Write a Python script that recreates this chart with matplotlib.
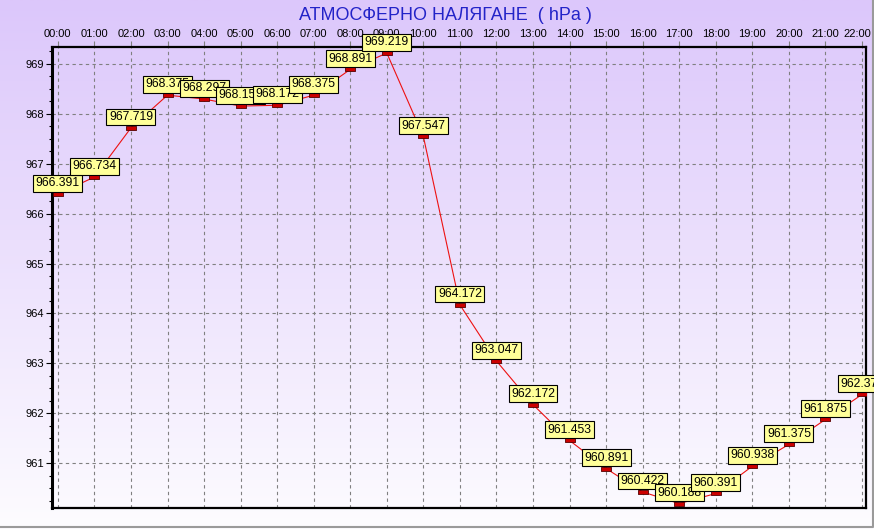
import numpy as np
import matplotlib

matplotlib.use("Agg")
import matplotlib.pyplot as plt
import matplotlib.transforms as mtransforms
from matplotlib.path import Path
from matplotlib.lines import Line2D

hours = list(range(23))
hour_labels = [f"{h:02d}:00" for h in hours]
pressure = [966.391, 966.734, 967.719, 968.375, 968.297, 968.156, 968.172,
            968.375, 968.891, 969.219, 967.547, 964.172, 963.047, 962.172,
            961.453, 960.891, 960.422, 960.188, 960.391, 960.938, 961.375,
            961.875, 962.375]
label_texts = ["966.391", "966.734", "967.719", "968.375", "968.297", "968.156",
               "968.172", "968.375", "968.891", "969.219", "967.547", "964.172",
               "963.047", "962.172", "961.453", "960.891", "960.422", "960.188",
               "960.391", "960.938", "961.375", "961.875", "962.375"]
y_ticks = [961, 962, 963, 964, 965, 966, 967, 968, 969]

plt.rcParams["font.family"] = ["Liberation Sans", "DejaVu Sans"]

W, H = 874, 529
fig = plt.figure(figsize=(W / 100, H / 100), dpi=100)

# gradient background: lavender at top fading to near white
bg = fig.add_axes([0, 0, 1, 1], zorder=-10)
top = np.array([220, 199, 251]) / 255
bot = np.array([253, 252, 255]) / 255
t = np.linspace(0, 1, 256)[:, None]
grad = (top * (1 - t) + bot * t)[:, None, :]
bg.imshow(grad, aspect="auto", extent=[0, 1, 0, 1])
bg.set_xlim(0, 1); bg.set_ylim(0, 1)
bg.set_axis_off()
# panel frame: gray on bottom and right
bg.add_line(Line2D([0, 0.9985, 0.9985], [0.003, 0.003, 1], color="#9a9a9a", lw=1.5))

ax = fig.add_axes([52 / W, 1 - 508 / H, (866 - 52) / W, (508 - 47) / H])
ax.patch.set_alpha(0)
ax.set_xlim(-0.16, 22.11)
ax.set_ylim(960.1, 969.34)

# custom flat rectangle marker
rect = Path([(-1, -0.45), (1, -0.45), (1, 0.45), (-1, 0.45), (-1, -0.45)],
            [Path.MOVETO, Path.LINETO, Path.LINETO, Path.LINETO, Path.CLOSEPOLY])

ax.plot(hours, pressure, color="#ee1111", lw=0.8, zorder=3)
for i, (x, y, s) in enumerate(zip(hours, pressure, label_texts)):
    ax.plot(x, y, marker=rect, ms=6.5, mfc="#cc0000", mec="#550000",
            mew=0.6, ls="none", zorder=4 + 2 * i)
    ax.annotate(s, (x, y), xytext=(0, 3.5), textcoords="offset points",
                ha="center", va="bottom", fontsize=8.7, color="black",
                bbox=dict(boxstyle="square,pad=0.2", fc="#ffff99",
                          ec="black", lw=0.8),
                zorder=5 + 2 * i, annotation_clip=False)

ax.set_xticks(hours)
ax.set_xticklabels(hour_labels)
ax.xaxis.tick_top()
ax.tick_params(axis="x", which="major", length=4, color="#808080",
               labelsize=8, pad=2)
# last hour label sits a little left so it stays inside the panel
last = ax.get_xticklabels()[-1]
last.set_transform(last.get_transform() +
                   mtransforms.ScaledTranslation(-5 / 100, 0, fig.dpi_scale_trans))
ax.set_yticks(y_ticks)
ax.set_yticks(np.arange(960.25, 969.3, 0.25), minor=True)
ax.tick_params(axis="y", which="major", length=4, width=0.8, labelsize=8, pad=2)
ax.tick_params(axis="y", which="minor", length=2, width=0.8)

ax.grid(True, color="#808080", ls=(0, (3, 3)), lw=0.8)
for side in ["left", "bottom", "top", "right"]:
    ax.spines[side].set_color("black")
ax.spines["left"].set_linewidth(2.2)
ax.spines["bottom"].set_linewidth(1.6)
ax.spines["top"].set_linewidth(1.6)
ax.spines["right"].set_linewidth(1.6)

fig.text(445 / W, 1 - 15 / H, "АТМОСФЕРНО НАЛЯГАНЕ  ( hPa )", ha="center",
         va="center", fontsize=13, color="#2323c8")

fig.savefig("out.png", dpi=100)
